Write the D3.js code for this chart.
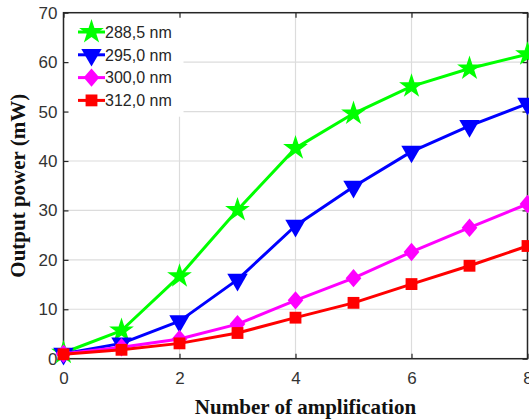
<!DOCTYPE html>
<html><head><meta charset="utf-8">
<script src="https://cdn.jsdelivr.net/npm/d3@7/dist/d3.min.js"></script>
<style>html,body{margin:0;padding:0;background:#fff;overflow:hidden}</style>
</head><body>
<svg id="c" width="529" height="420"></svg>
<script>
const xValues = [0,1,2,3,4,5,6,7,8];
const s288 = [1.2,5.7,16.7,30.1,42.6,49.6,55.1,58.7,61.6];
const s295 = [1.0,3.1,7.6,16.0,26.9,34.8,41.9,47.1,51.6];
const s300 = [1.0,2.3,4.0,7.0,11.8,16.3,21.6,26.5,31.3];
const s312 = [0.9,1.8,3.1,5.2,8.3,11.3,15.1,18.8,22.8];
const seriesNames = ["288,5 nm","295,0 nm","300,0 nm","312,0 nm"];
const colors = ["#00ff00","#0000ff","#ff00ff","#ff0000"];
const xTicks = [0,2,4,6,8];
const yTicks = [0,10,20,30,40,50,60,70];

const allSeries = [s288,s295,s300,s312];
const svg = d3.select("#c");
const L=63.5, R=527.5, T=12.7, B=358.7;
const x = d3.scaleLinear().domain([0,8]).range([L,R]);
const y = d3.scaleLinear().domain([0,70]).range([B,T]);

// grid
const g = svg.append("g");
g.selectAll(".gx").data(xTicks).enter().append("line")
  .attr("x1",d=>x(d)).attr("x2",d=>x(d)).attr("y1",T).attr("y2",B)
  .attr("stroke","#dcdcdc").attr("stroke-width",1.2);
g.selectAll(".gy").data(yTicks).enter().append("line")
  .attr("x1",L).attr("x2",R).attr("y1",d=>y(d)).attr("y2",d=>y(d))
  .attr("stroke","#dcdcdc").attr("stroke-width",1.2);

// legend background (covers grid)
svg.append("rect").attr("x",L+1).attr("y",T+1).attr("width",119).attr("height",103).attr("fill","#fff");

// axes ticks
const tickLen = 5;
const axL = d3.axisLeft(y).tickValues(yTicks).tickSize(-tickLen).tickPadding(6);
const axB = d3.axisBottom(x).tickValues(xTicks).tickSize(-tickLen).tickPadding(13);
const axT = d3.axisTop(x).tickValues(xTicks).tickSize(-tickLen).tickFormat("");
const axR = d3.axisRight(y).tickValues(yTicks).tickSize(-tickLen).tickFormat("");
function style(sel){
  sel.select(".domain").remove();
  sel.selectAll(".tick line").attr("stroke","#262626").attr("stroke-width",1.2);
  sel.selectAll(".tick text").attr("fill","#333").style("font-family","Liberation Sans, Arial, sans-serif").style("font-size","17px");
}
svg.append("g").attr("transform",`translate(${L},0)`).call(axL).call(style);
svg.append("g").attr("transform",`translate(0,${B})`).call(axB).call(style);
svg.append("g").attr("transform",`translate(0,${T})`).call(axT).call(style);
svg.append("g").attr("transform",`translate(${R},0)`).call(axR).call(style);

// frame
svg.append("rect").attr("x",L).attr("y",T).attr("width",R-L).attr("height",B-T)
  .attr("fill","none").attr("stroke","#262626").attr("stroke-width",1.5);

// symbols
const symDefs = [
  {type:d3.symbolStar,size:190,tf:""},
  {type:d3.symbolTriangle,size:180,tf:"rotate(180)"},
  {type:d3.symbolSquare,size:170,tf:"scale(0.85,1) rotate(45)"},
  {type:d3.symbolSquare,size:140,tf:""}
];
const line = d3.line().x((d,i)=>x(xValues[i])).y(d=>y(d));
allSeries.forEach((s,k)=>{
  svg.append("path").datum(s).attr("d",line).attr("fill","none")
    .attr("stroke",colors[k]).attr("stroke-width",3).attr("stroke-linejoin","round");
  const sym = d3.symbol().type(symDefs[k].type).size(symDefs[k].size);
  svg.append("g").selectAll("path").data(s).enter().append("path")
    .attr("d",sym)
    .attr("transform",(d,i)=>`translate(${x(xValues[i])},${y(d)}) ${symDefs[k].tf}`)
    .attr("fill",colors[k]);
});

// legend
seriesNames.forEach((n,k)=>{
  const yy = 32 + k*22.8;
  svg.append("line").attr("x1",78).attr("x2",105).attr("y1",yy).attr("y2",yy)
    .attr("stroke",colors[k]).attr("stroke-width",3);
  const sym = d3.symbol().type(symDefs[k].type).size(symDefs[k].size);
  svg.append("path").attr("d",sym).attr("transform",`translate(91.5,${yy}) ${symDefs[k].tf}`)
    .attr("fill",colors[k]);
  svg.append("text").attr("x",105).attr("y",yy).attr("dy","0.36em")
    .style("font-family","Liberation Sans, Arial, sans-serif").style("font-size","16px")
    .attr("fill","#262626").text(n);
});

// axis titles
svg.append("text").attr("x",(L+R)/2 + 10).attr("y",414)
  .attr("text-anchor","middle").style("font-family","Liberation Serif, Times New Roman, serif")
  .style("font-weight","bold").style("font-size","21px").attr("fill","#111").text("Number of amplification");
svg.append("text").attr("transform",`translate(25,${(T+B)/2}) rotate(-90)`)
  .attr("text-anchor","middle").style("font-family","Liberation Serif, Times New Roman, serif")
  .style("font-weight","bold").style("font-size","21px").attr("fill","#111").text("Output power (mW)");
</script>
</body></html>
